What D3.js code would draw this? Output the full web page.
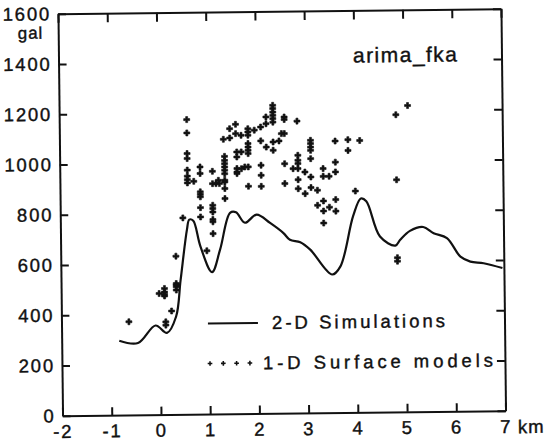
<!DOCTYPE html>
<html>
<head>
<meta charset="utf-8">
<script src="https://cdn.jsdelivr.net/npm/d3@7"></script>
<style>
body { margin: 0; background: #fff; }
text { font-family: "Liberation Sans", Arial, sans-serif; fill: #111; stroke: #111; stroke-width: 0.4; }
</style>
</head>
<body>
<svg id="chart" width="544" height="442"></svg>
<script>
/** data **/
var xTicks = [-2, -1, 0, 1, 2, 3, 4, 5, 6, 7];
var yTicks = [0, 200, 400, 600, 800, 1000, 1200, 1400, 1600];

// 2-D simulations (km, gal)
var simX = [-0.83, -0.45, -0.09, 0.14, 0.33, 0.43, 0.57, 0.62, 0.70, 0.84, 1.07, 1.24, 1.45, 1.57, 1.75, 1.99,
            2.26, 2.53, 2.66, 2.87, 3.07, 3.51, 3.68, 3.95, 4.11, 4.22, 4.49, 4.80, 4.90, 5.10, 5.37, 5.58,
            5.85, 6.12, 6.32, 6.59, 6.97];
var simY = [296, 286, 355, 325, 390, 535, 735, 775, 770, 668, 565, 655, 800, 802, 760, 792,
            758, 717, 690, 680, 650, 550, 582, 782, 851, 840, 699, 662, 685, 720, 735, 710,
            690, 615, 595, 588, 568];

// 1-D surface models (km, gal)
var dotX = [0.59, 0.59, 0.59, 0.59, 0.59, 0.59, 0.59, 0.59,
            0.49, 0.72,
            0.85, 0.85, 0.85, 0.85, 0.85, 0.85, 0.85,
            1.10, 1.10, 1.10, 1.10, 1.10, 1.10, 1.10, 1.10,
            1.17, 1.24, 1.22,
            1.35, 1.35, 1.35, 1.35, 1.35, 1.35, 1.35, 1.35, 1.35, 1.35,
            1.33, 1.46, 1.46, 1.58, 1.58,
            1.60, 1.60, 1.60, 1.60, 1.60,
            1.69, 1.69, 1.69, 1.76,
            1.83, 1.83, 1.83, 1.83, 1.83, 1.83, 1.83, 1.83, 1.83,
            1.96,
            2.09, 2.09, 2.09, 2.09, 2.09,
            2.20, 2.20, 2.20,
            2.34, 2.34, 2.34, 2.34, 2.34, 2.34, 2.34, 2.34,
            2.46,
            2.57, 2.57, 2.57, 2.57, 2.57, 2.51,
            2.83, 2.74,
            2.84, 2.84, 2.84, 2.84, 2.84, 2.84,
            2.98, 2.98,
            3.10, 3.10, 3.10, 3.10, 3.10, 3.10, 3.10,
            3.23, 3.23,
            3.35, 3.35, 3.35, 3.35, 3.35,
            3.47, 3.47,
            3.60, 3.60, 3.60, 3.60, 3.60,
            3.86, 3.86, 4.00, 4.10,
            4.84, 4.84, 4.84, 4.84, 5.08,
            -0.63, -0.01, 0.10, 0.10, 0.10, 0.10, 0.12, 0.12, 0.24,
            0.34, 0.34, 0.34, 0.34, 0.34, 0.97];
var dotY = [1173, 1120, 1038, 1018, 972, 948, 934, 921,
            782, 927,
            984, 958, 885, 875, 865, 822, 785,
            966, 917, 831, 818, 804, 774, 765, 718,
            917, 917, 930,
            1025, 1009, 996, 983, 970, 956, 930, 923, 897, 857,
            1093, 1135, 1098, 1152, 1115,
            1042, 1022, 976, 962, 956,
            1108, 1042, 975, 982,
            1134, 1121, 1108, 1075, 1061, 1048, 1035, 982, 905,
            1128,
            1140, 1085, 988, 948, 904,
            1180, 1153, 1060,
            1226, 1213, 1199, 1186, 1173, 1159, 1080, 1047,
            1084,
            1179, 1169, 1113, 993, 914, 1113,
            1162, 973,
            1026, 1006, 993, 973, 929, 893,
            959, 873,
            1085, 1072, 1058, 1045, 1012, 939, 897,
            886, 826,
            972, 941, 843, 803, 755,
            941, 818,
            1081, 997, 958, 848, 802,
            1086, 1043, 881, 1082,
            1183, 924, 614, 600, 1219,
            371, 482, 502, 488, 479, 472, 369, 356, 412,
            630, 521, 515, 508, 495, 650];

/** layout **/
var x0 = 60.25, x1 = 503.25, y0 = 11.25, y1 = 413.25;
var x = d3.scaleLinear().domain([-2, 7]).range([x0, x1]);
var y = d3.scaleLinear().domain([0, 1600]).range([y1, y0]);

var svg = d3.select("#chart");
// the scanned figure sits slightly tilted
var g = svg.append("g").attr("transform", "rotate(-0.65,281.75,212.25)");

var fmt = function(d) { return d < 0 ? "-" + Math.abs(d) : "" + d; };

g.append("g")
	.attr("transform", "translate(" + x0 + ",0)")
	.call(d3.axisLeft(y).tickValues(yTicks).tickSizeInner(-8).tickSizeOuter(0).tickPadding(7).tickFormat(fmt));
g.append("g")
	.attr("transform", "translate(0," + y1 + ")")
	.call(d3.axisBottom(x).tickValues(xTicks).tickSizeInner(-8).tickSizeOuter(0).tickPadding(9).tickFormat(fmt));
g.append("g")
	.attr("transform", "translate(0," + y0 + ")")
	.call(d3.axisTop(x).tickValues(xTicks).tickSizeInner(-9).tickSizeOuter(0).tickFormat(""));
g.append("g")
	.attr("transform", "translate(" + x1 + ",0)")
	.call(d3.axisRight(y).tickValues(yTicks).tickSizeInner(-8).tickSizeOuter(0).tickFormat(""));

g.selectAll(".domain, .tick line").attr("stroke", "#111").attr("stroke-width", 2);
g.selectAll(".tick text")
	.attr("font-size", 18.5)
	.attr("letter-spacing", 1.8)
	.attr("font-family", null);

// units and title
g.append("text").attr("x", 32.5).attr("y", 36).attr("text-anchor", "middle")
	.attr("font-size", 17).attr("letter-spacing", 1).text("gal");
g.append("text").attr("x", 515.6).attr("y", 435.8)
	.attr("font-size", 18.5).attr("letter-spacing", 1).text("km");
g.append("text").attr("x", 354.7).attr("y", 63.4)
	.attr("font-size", 21).attr("textLength", 104).attr("lengthAdjust", "spacing").text("arima_fka");

// 2-D simulation line
var line = d3.line()
	.x(function(d, i) { return x(simX[i]); })
	.y(function(d, i) { return y(simY[i]); })
	.curve(d3.curveCatmullRom.alpha(0.5));
g.append("path")
	.datum(simY)
	.attr("d", line)
	.attr("fill", "none")
	.attr("stroke", "#111")
	.attr("stroke-width", 2.2);

// 1-D surface models: small bold crosses
var sym = d3.symbol().type(d3.symbolCross).size(20);
g.selectAll("path.dot")
	.data(dotY)
	.enter()
	.append("path")
	.attr("class", "dot")
	.attr("d", sym)
	.attr("transform", function(d, i) { return "translate(" + x(dotX[i]) + "," + y(d) + ")"; })
	.attr("fill", "#111")
	.attr("stroke", "#111")
	.attr("stroke-width", 0.6);

// legend
g.append("line")
	.attr("x1", 206.7).attr("x2", 256.7).attr("y1", 322.7).attr("y2", 322.7)
	.attr("stroke", "#111").attr("stroke-width", 2);
g.append("text").attr("x", 270.8).attr("y", 328.9)
	.attr("font-size", 18.5).attr("textLength", 173).attr("lengthAdjust", "spacing")
	.text("2-D Simulations");
g.selectAll("path.leg")
	.data([0, 1, 2, 3])
	.enter()
	.append("path")
	.attr("class", "leg")
	.attr("d", d3.symbol().type(d3.symbolCross).size(12))
	.attr("transform", function(d) { return "translate(" + (208.3 + d * 13.3) + ",362.7)"; })
	.attr("fill", "#111");
g.append("text").attr("x", 261.3).attr("y", 369.1)
	.attr("font-size", 18.5).attr("textLength", 230).attr("lengthAdjust", "spacing")
	.text("1-D Surface models");
</script>
</body>
</html>
